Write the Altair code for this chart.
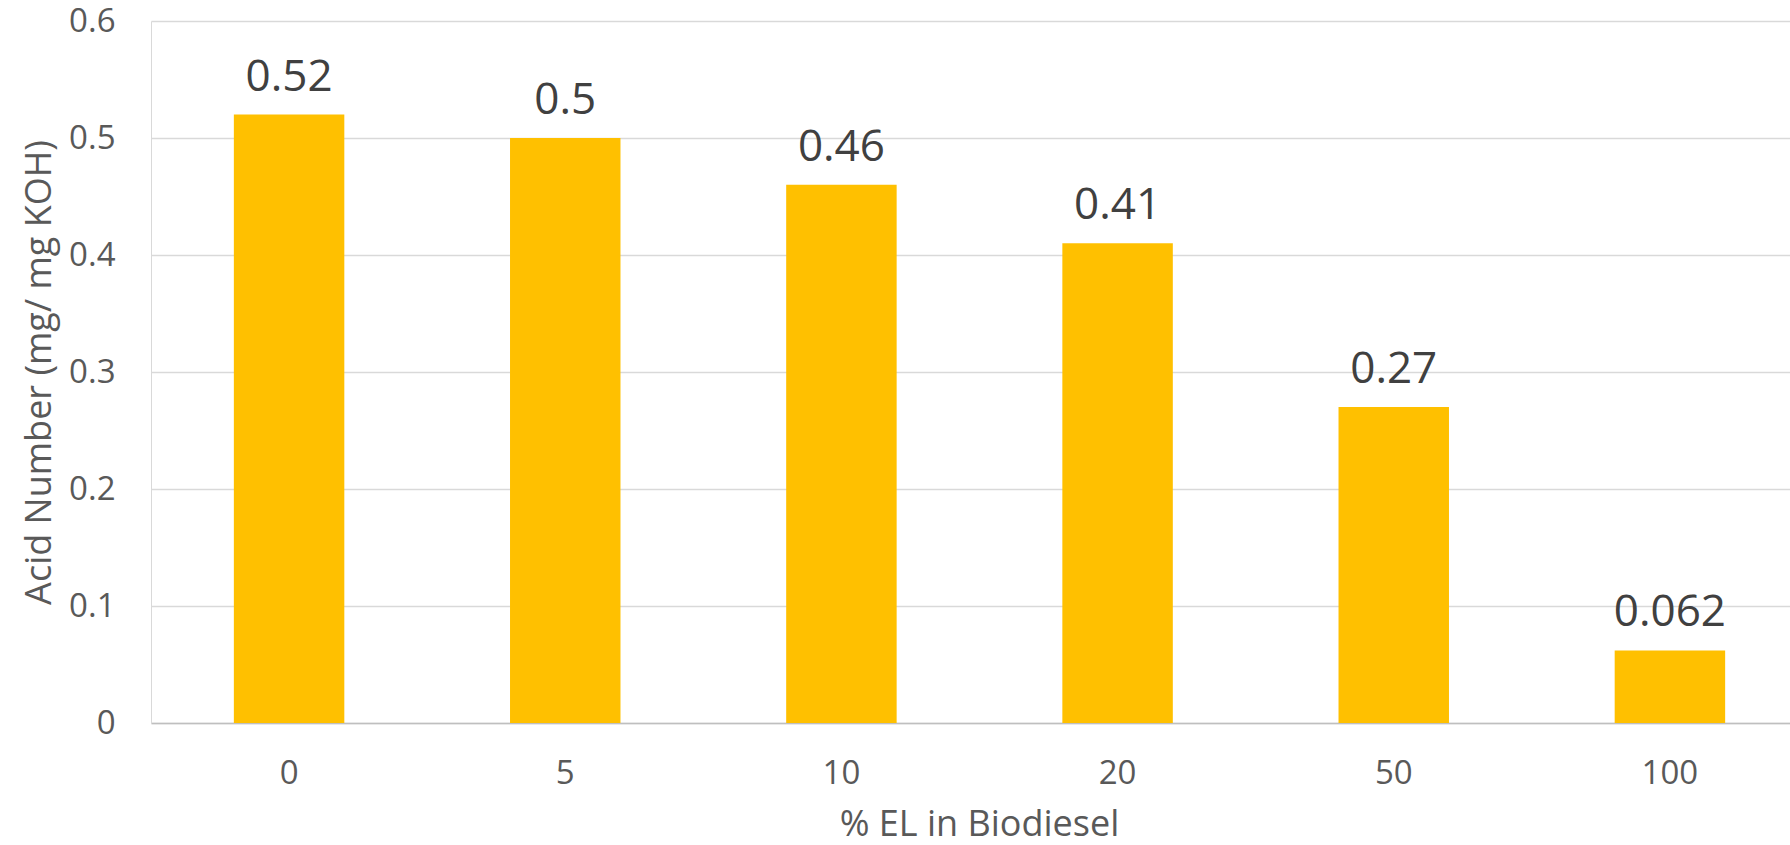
import altair as alt
import pandas as pd

# % ethyl levulinate blended into biodiesel and the measured acid number
blend_pct = ["0", "5", "10", "20", "50", "100"]
acid_number = [0.52, 0.5, 0.46, 0.41, 0.27, 0.062]
value_labels = ["0.52", "0.5", "0.46", "0.41", "0.27", "0.062"]

df = pd.DataFrame({"blend": blend_pct, "acid": acid_number, "label": value_labels})

FONT = "Open Sans"
AXIS_GREY = "#595959"

x_enc = alt.X(
    "blend:O",
    sort=blend_pct,
    title="% EL in Biodiesel",
    scale=alt.Scale(range=[0, 1657], paddingInner=0.6, paddingOuter=0.3),
    axis=alt.Axis(
        labelAngle=0,
        labelFontSize=33,
        labelColor=AXIS_GREY,
        labelBaseline="alphabetic",
        labelPadding=60,
        ticks=False,
        domainColor="#BFBFBF",
        domainWidth=1.5,
        titleFontSize=36,
        titleFontWeight="normal",
        titleColor=AXIS_GREY,
        titleBaseline="alphabetic",
        titleX=828,
        titleY=112,
    ),
)

y_enc = alt.Y(
    "acid:Q",
    title="Acid Number (mg/ mg KOH)",
    scale=alt.Scale(domain=[0, 0.6], nice=False),
    axis=alt.Axis(
        values=[0, 0.1, 0.2, 0.3, 0.4, 0.5, 0.6],
        format=".1~f",
        labelFontSize=33,
        labelColor=AXIS_GREY,
        labelPadding=36,
        ticks=False,
        domainColor="#D9D9D9",
        gridColor="#D9D9D9",
        gridWidth=1.5,
        titleFontSize=36,
        titleFontWeight="normal",
        titleColor=AXIS_GREY,
        titleAngle=-90,
        titleBaseline="alphabetic",
        titleAlign="center",
        titleX=-101,
        titleY=351,
    ),
)

bars = alt.Chart(df).mark_bar(color="#FFC000").encode(x=x_enc, y=y_enc)

labels = alt.Chart(df).mark_text(
    baseline="alphabetic",
    dy=-24,
    fontSize=44,
    font=FONT,
    color="#404040",
).encode(x=alt.X("blend:O", sort=blend_pct), y="acid:Q", text="label:N")

chart = (
    alt.layer(bars, labels)
    .properties(
        width=1637,
        height=702,
        autosize=alt.AutoSizeParams(type="none"),
        padding={"left": 151, "top": 21, "right": 2, "bottom": 122},
    )
    .configure(font=FONT)
    .configure_view(stroke=None)
    .configure_axis(labelFont=FONT, titleFont=FONT)
)

chart.save("out.html", embed_options={"renderer": "svg", "actions": False})
